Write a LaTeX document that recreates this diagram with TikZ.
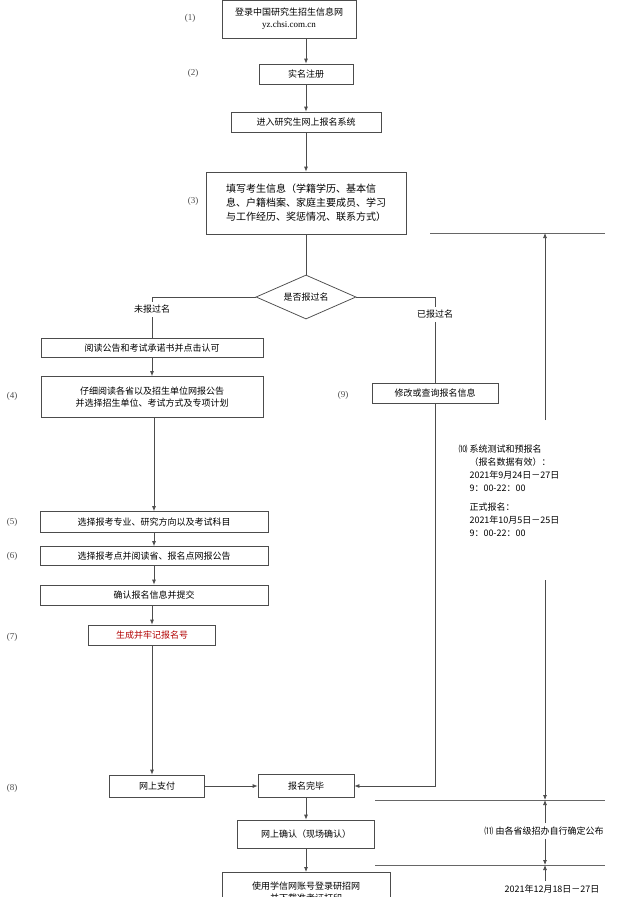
\documentclass[tikz,border=0pt]{standalone}
\usepackage{fontspec}
\setmainfont{Liberation Serif}
\newfontfamily\cjk{Noto Sans CJK SC}
\usetikzlibrary{shapes.geometric,arrows.meta}
\tikzset{every picture/.style={line width=0.75pt}}
\tikzset{
  stepbox/.style={draw=black!70,minimum height=20,inner sep=2pt,font=\cjk\fontsize{9}{12}\selectfont,align=center},
  numlbl/.style={font=\fontsize{9}{11}\selectfont,text=black!70},
  flow/.style={draw=black!70,-{Latex[length=5pt,width=4pt]}},
  rule/.style={draw=black!60,line width=0.6pt},
}
\begin{document}
\begin{tikzpicture}[x=1pt,y=1pt,yscale=-1,xscale=1]
\useasboundingbox[fill=white] (0,0) rectangle (626,897);

% main column
\node [stepbox,minimum width=134,minimum height=38] (login) at (289,19) {登录中国研究生招生信息网\\{\rmfamily yz.chsi.com.cn}};
\node [stepbox,minimum width=94] (reg) at (306,74) {实名注册};
\node [stepbox,minimum width=150] (enter) at (306,122) {进入研究生网上报名系统};
\node [stepbox,minimum width=200,minimum height=62,align=left,font=\cjk\fontsize{10}{14}\selectfont] (fill) at (306,203) {填写考生信息（学籍学历、基本信\\息、户籍档案、家庭主要成员、学习\\与工作经历、奖惩情况、联系方式）};
\node [draw=black!70,diamond,aspect=2.3,minimum width=100,minimum height=44,inner sep=1pt,font=\cjk\fontsize{9}{11}\selectfont] (check) at (306,297) {是否报过名};

% left branch
\node [stepbox,minimum width=222,minimum height=19] (notice) at (152,348) {阅读公告和考试承诺书并点击认可};
\node [stepbox,minimum width=222,minimum height=41] (unit) at (152,397) {仔细阅读各省以及招生单位网报公告\\并选择招生单位、考试方式及专项计划};
\node [stepbox,minimum width=228,minimum height=21] (major) at (154,522) {选择报考专业、研究方向以及考试科目};
\node [stepbox,minimum width=228,minimum height=19] (site) at (154,556) {选择报考点并阅读省、报名点网报公告};
\node [stepbox,minimum width=228,minimum height=20] (submit) at (154,595) {确认报名信息并提交};
\node [stepbox,minimum width=127,text=red!70!black] (number) at (152,635) {生成并牢记报名号};
\node [stepbox,minimum width=95,minimum height=22] (pay) at (157,786) {网上支付};
\node [stepbox,minimum width=96,minimum height=23] (done) at (306,786) {报名完毕};
\node [stepbox,minimum width=137,minimum height=28] (confirm) at (306,834) {网上确认（现场确认）};
\node [stepbox,minimum width=168,minimum height=40,anchor=north] (ticket) at (306,872) {使用学信网账号登录研招网\\并下载准考证打印};

% right branch
\node [stepbox,minimum width=126] (modify) at (435,393) {修改或查询报名信息};

% step numbers
\node [numlbl] (n1) at (190,18) {(1)};
\node [numlbl] (n2) at (193,73) {(2)};
\node [numlbl] (n3) at (193,201) {(3)};
\node [numlbl] (n4) at (12,396) {(4)};
\node [numlbl] (n5) at (12,522) {(5)};
\node [numlbl] (n6) at (12,556) {(6)};
\node [numlbl] (n7) at (12,637) {(7)};
\node [numlbl] (n8) at (12,788) {(8)};
\node [numlbl] (n9) at (343,395) {(9)};

% connectors
\draw [flow] (login.south -| reg.north) -- (reg);
\draw [flow] (reg) -- (enter);
\draw [flow] (enter) -- (fill);
\draw [draw=black!70] (fill) -- (check);
\draw [draw=black!70] (check.west) -| node [pos=0.65,fill=white,font=\cjk\fontsize{9}{11}\selectfont] (no) {未报过名} (notice.north);
\draw [flow] (notice) -- (unit);
\draw [flow] (unit.south -| major.north) -- (major);
\draw [flow] (major) -- (site);
\draw [flow] (site) -- (submit);
\draw [flow] (submit.south -| number.north) -- (number);
\draw [flow] (number) -- (number |- pay.north);
\draw [flow] (pay) -- (done);
\draw [draw=black!70] (check.east) -| node [pos=0.6,fill=white,font=\cjk\fontsize{9}{11}\selectfont] (yes) {已报过名} (modify.north);
\draw [flow] (modify.south) |- (done.east);
\draw [flow] (done) -- (confirm);
\draw [flow] (confirm) -- (ticket);

% timeline
\coordinate (t0) at (545,233);
\coordinate (t1) at (545,800);
\coordinate (t2) at (545,865);
\draw [rule] (430,233) -- (605,233);
\draw [rule] (375,800) -- (605,800);
\draw [rule] (375,865) -- (605,865);
\node [font=\cjk\fontsize{9}{13}\selectfont,align=left,anchor=north west] (reg10) at (455,441) {⑽\ 系统测试和预报名\\\hspace{1.2em}（报名数据有效）：\\\hspace{1.2em}2021年9月24日－27日\\\hspace{1.2em}9：00-22：00\\[6pt]\hspace{1.2em}正式报名：\\\hspace{1.2em}2021年10月5日－25日\\\hspace{1.2em}9：00-22：00};
\node [font=\cjk\fontsize{9}{11}\selectfont] (pub11) at (544,831) {⑾\ 由各省级招办自行确定公布};
\node [font=\cjk\fontsize{9}{11}\selectfont] (print12) at (552,889) {2021年12月18日－27日};
\draw [flow] (545,420) -- (t0);
\draw [flow] (545,580) -- (t1);
\draw [flow] (pub11.north -| t1) -- (t1);
\draw [flow] (pub11.south -| t2) -- (t2);
\draw [flow] (print12.north -| t2) -- (t2);

\end{tikzpicture}
\end{document}
